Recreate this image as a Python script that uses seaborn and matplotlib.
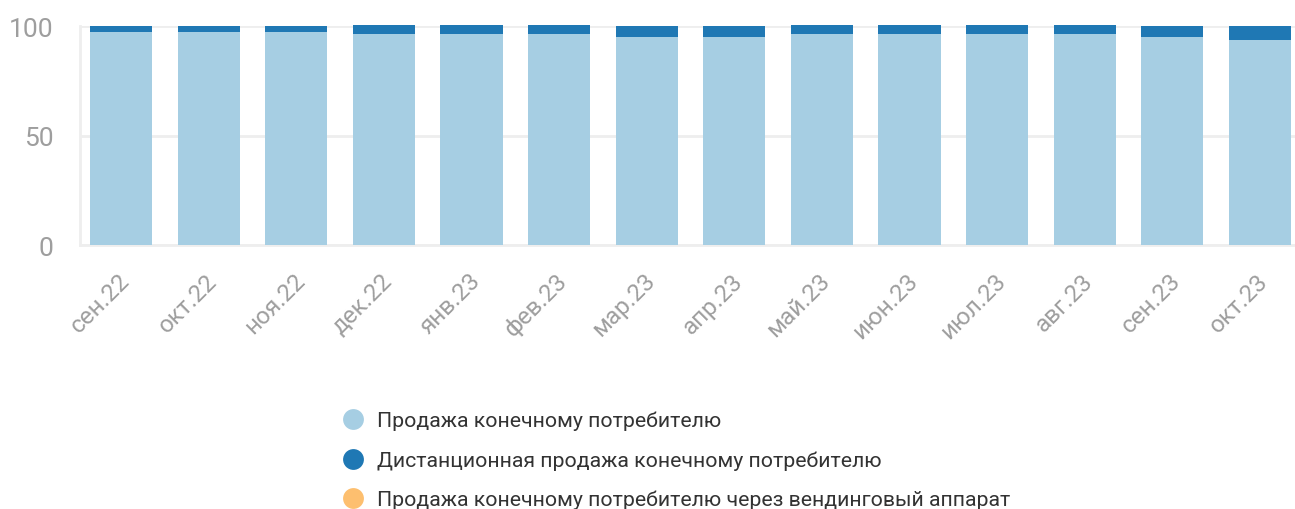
import matplotlib
matplotlib.use('Agg')
import matplotlib.pyplot as plt
from matplotlib.lines import Line2D
from matplotlib.transforms import ScaledTranslation
import seaborn as sns
import numpy as np

months = ['сен.22', 'окт.22', 'ноя.22', 'дек.22', 'янв.23', 'фев.23', 'мар.23',
          'апр.23', 'май.23', 'июн.23', 'июл.23', 'авг.23', 'сен.23', 'окт.23']

# shares, %
end_consumer = [97.4, 97.4, 97.4, 96.4, 96.4, 96.4, 95.2,
                95.2, 96.4, 96.4, 96.4, 96.4, 95.2, 93.8]
remote_sale = [2.8, 2.8, 2.8, 4.2, 4.2, 4.2, 5.0,
               5.0, 4.2, 4.2, 4.2, 4.2, 5.0, 6.4]
vending_sale = [0.0, 0.0, 0.0, 0.0, 0.0, 0.0, 0.0,
                0.0, 0.0, 0.0, 0.0, 0.0, 0.0, 0.0]

labels = ['Продажа конечному потребителю',
          'Дистанционная продажа конечному потребителю',
          'Продажа конечному потребителю через вендинговый аппарат']
colors = ['#a6cee3', '#1f78b4', '#fdbf6f']

sns.set_theme(style='white')
plt.rcParams['font.family'] = ['Roboto', 'DejaVu Sans']

W, H = 1295, 510
fig = plt.figure(figsize=(W / 100, H / 100), dpi=100)
ax = fig.add_axes([80 / W, 1 - 246 / H, (W - 80) / W, (246 - 27.4) / H])

bottom = np.zeros(len(months))
for vals, col in zip([end_consumer, remote_sale, vending_sale], colors):
    sns.barplot(x=months, y=vals, bottom=bottom, color=col, width=0.71,
                errorbar=None, ax=ax, zorder=2, clip_on=False,
                linewidth=0, saturation=1)
    bottom += np.array(vals)

ax.set_xlim(-0.468, 13.40)
ax.set_ylim(0, 100)
ax.set_yticks([0, 50, 100])
ax.yaxis.grid(True, color='#eeeeee', linewidth=2, zorder=0)
ax.set_axisbelow(True)

for side in ['top', 'right']:
    ax.spines[side].set_visible(False)
for side in ['left', 'bottom']:
    ax.spines[side].set_color('#eeeeee')
    ax.spines[side].set_linewidth(2)
    ax.spines[side].set_zorder(1)

ax.tick_params(axis='y', length=0, pad=19, labelsize=19, labelcolor='#9e9e9e')
ax.tick_params(axis='x', length=0, pad=17, labelsize=17.5, labelcolor='#9e9e9e')
offset = ScaledTranslation(0.13, 0, fig.dpi_scale_trans)
for lbl in ax.get_xticklabels():
    lbl.set_rotation(45)
    lbl.set_ha('right')
    lbl.set_va('top')
    lbl.set_transform(lbl.get_transform() + offset)

handles = [Line2D([0], [0], marker='o', linestyle='', markersize=15,
                  markerfacecolor=c, markeredgewidth=0) for c in colors]
leg = fig.legend(handles, labels, loc='upper left', bbox_to_anchor=(342.6 / W, 1 - 412 / H),
                 frameon=False, fontsize=15.3, handlelength=1.0, handletextpad=0.62,
                 labelspacing=0.94, borderpad=0, borderaxespad=0)
for t in leg.get_texts():
    t.set_color('#333333')

fig.savefig('out.png', dpi=100)
